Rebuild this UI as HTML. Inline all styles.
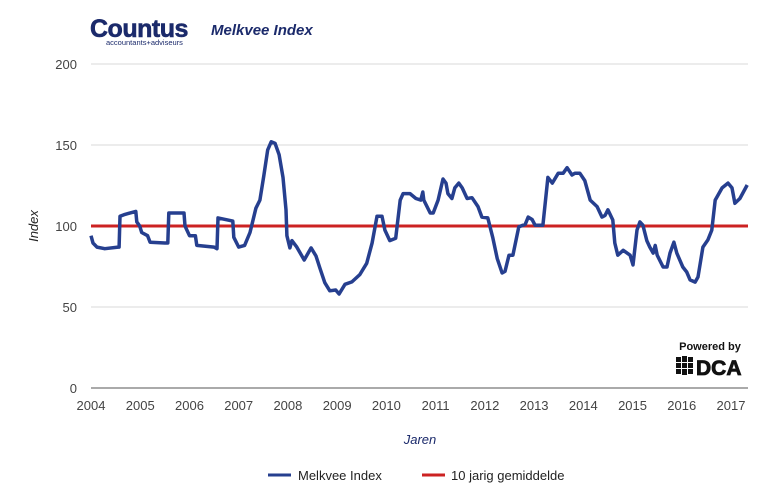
<!DOCTYPE html>
<html><head><meta charset="utf-8"><style>
body{margin:0;background:#fff;width:783px;height:504px;overflow:hidden;font-family:"Liberation Sans",sans-serif}
svg{display:block}
</style></head><body>
<svg id="chart" width="783" height="504">
<g>
<text x="90" y="37" font-size="25" font-weight="bold" fill="#1b2a6b" letter-spacing="-0.5" stroke="#1b2a6b" stroke-width="0.6">Countus</text>
<text x="106" y="45" font-size="7.5" fill="#1b2a6b">accountants+adviseurs</text>
</g>
<text x="211" y="35" font-size="15" font-weight="bold" font-style="italic" fill="#1b2a6b">Melkvee Index</text>
<g id="grid"></g>
<g id="series"></g>
<text transform="translate(38,226) rotate(-90)" text-anchor="middle" font-size="13" font-style="italic" fill="#222">Index</text>
<text x="420" y="444" text-anchor="middle" font-size="13" font-style="italic" fill="#1b2a6b">Jaren</text>
<g>
<text x="710" y="350" text-anchor="middle" font-size="11" font-weight="bold" fill="#111">Powered by</text>
<g fill="#111">
<rect x="676" y="357" width="5" height="5"/><rect x="682" y="356" width="5" height="6"/><rect x="688" y="357" width="5" height="5"/>
<rect x="676" y="363" width="5" height="5"/><rect x="682" y="363" width="5" height="5"/><rect x="688" y="363" width="5" height="5"/>
<rect x="676" y="369" width="5" height="5"/><rect x="682" y="369" width="5" height="6"/><rect x="688" y="369" width="5" height="5"/>
</g>
<text x="696" y="375" font-size="21" font-weight="bold" fill="#111" stroke="#111" stroke-width="0.8">DCA</text>
</g>
<g>
<line x1="268" y1="475" x2="291" y2="475" stroke="#263f8f" stroke-width="3"/>
<text x="298" y="480" font-size="13" fill="#222">Melkvee Index</text>
<line x1="422" y1="475" x2="445" y2="475" stroke="#cc2222" stroke-width="3"/>
<text x="451" y="480" font-size="13" fill="#222">10 jarig gemiddelde</text>
</g>
</svg>
<script>
const yTicks=[0,50,100,150,200];
const xTicks=[2004,2005,2006,2007,2008,2009,2010,2011,2012,2013,2014,2015,2016,2017];
const average=100;
const dates=[2004.0,2004.04,2004.12,2004.28,2004.55,2004.57,2004.59,2004.67,2004.91,2004.93,2004.99,2005.03,2005.15,2005.2,2005.5,2005.56,2005.58,2005.89,2005.91,2006.0,2006.12,2006.15,2006.5,2006.56,2006.58,2006.88,2006.9,2007.0,2007.12,2007.23,2007.35,2007.43,2007.51,2007.59,2007.66,2007.74,2007.82,2007.9,2007.96,2007.98,2008.04,2008.08,2008.18,2008.33,2008.47,2008.57,2008.65,2008.75,2008.85,2008.97,2009.04,2009.16,2009.3,2009.46,2009.6,2009.71,2009.81,2009.91,2009.97,2010.07,2010.19,2010.28,2010.34,2010.48,2010.6,2010.7,2010.74,2010.76,2010.89,2010.95,2011.05,2011.15,2011.21,2011.25,2011.33,2011.39,2011.47,2011.54,2011.64,2011.74,2011.86,2011.94,2012.06,2012.16,2012.25,2012.35,2012.41,2012.49,2012.57,2012.69,2012.82,2012.88,2012.96,2013.02,2013.18,2013.28,2013.37,2013.49,2013.59,2013.67,2013.77,2013.83,2013.93,2014.03,2014.14,2014.28,2014.38,2014.44,2014.5,2014.6,2014.64,2014.7,2014.81,2014.95,2015.01,2015.09,2015.15,2015.21,2015.29,2015.35,2015.42,2015.46,2015.5,2015.62,2015.7,2015.76,2015.84,2015.9,2016.02,2016.1,2016.17,2016.27,2016.33,2016.43,2016.53,2016.61,2016.68,2016.82,2016.94,2017.02,2017.08,2017.18,2017.33];
const values=[94,89.5,87,86,87,87,106,107,109,102.5,100,96,94,90,89.5,89.5,108,108,100,94,94,88,87,86,105,103,93,87,88,96,111,116,131,147,152,151,144,130,110,94,86.5,91,87,79,86.5,81.5,74,65,60,60.5,58,64,65.5,70,77,89.5,106,106,97.5,91,92.5,116,120,120,117,116,121,116,108,108,116,129,126.5,120,117,123.5,126.5,123.5,117,117.5,112,105.5,105,93,80,71,72,82,82,99.5,101,105.5,104,100.5,100.5,130,126.5,132.5,132.5,136,131.5,132.5,132.5,128,116,112,105.5,106.5,110,103.7,89.5,82,85,82,76,97.5,102.5,100.5,91,87,83.3,88,82,74.7,74.7,83.3,90,83.3,74.7,71.6,66.7,65.4,68.5,87,91.4,97.5,116,123.5,126.5,123.5,114,117,125.3];

const X0=91,X1=748,Y0=388;
const xs=y=>X0+(y-2004)*(731-91)/13;
const ys=v=>Y0-v*(388-64)/200;
const NS="http://www.w3.org/2000/svg";
const grid=document.getElementById('grid');
const series=document.getElementById('series');
function mk(tag,attrs,parent){const e=document.createElementNS(NS,tag);for(const k in attrs)e.setAttribute(k,attrs[k]);parent.appendChild(e);return e;}
yTicks.forEach(t=>{
  const l=mk('line',{x1:X0,x2:X1,y1:ys(t),y2:ys(t),stroke:t===0?'#555':'#d9d9d9','stroke-width':1},grid);
  
  
  const tx=mk('text',{x:77,y:ys(t)+5,'text-anchor':'end','font-size':13,fill:'#444'},grid);
  tx.textContent=t;
  
  
});
xTicks.forEach(t=>{
  const tx=mk('text',{x:xs(t),y:410,'text-anchor':'middle','font-size':13,fill:'#444'},grid);
  tx.textContent=t;
  
  
});
const avg=mk('line',{x1:X0,x2:X1,y1:ys(average),y2:ys(average),stroke:'#cc2222','stroke-width':3},series);


const d=dates.map((t,i)=>(i?'L':'M')+xs(t).toFixed(1)+','+ys(values[i]).toFixed(1)).join('');
const p=mk('path',{d:d,fill:'none',stroke:'#263f8f','stroke-width':3.5,'stroke-linejoin':'round'},series);


</script>
</body></html>
